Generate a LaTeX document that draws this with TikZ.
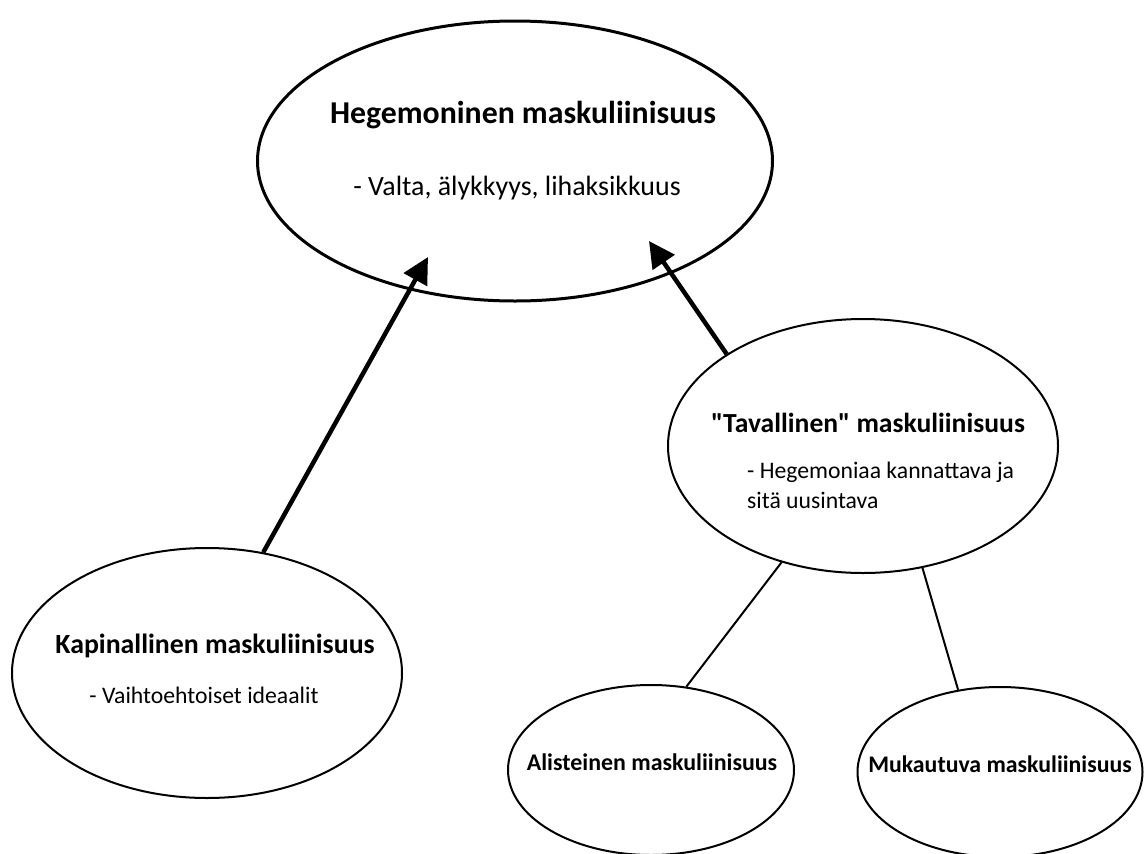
\documentclass[tikz,border=0pt]{standalone}
\usepackage{fontspec}
\setmainfont{Carlito}[Ligatures=TeXOff]
\usetikzlibrary{arrows.meta, shapes.geometric}
\newcommand{\ttlfont}[1]{\fontsize{#1}{#1}\selectfont\bfseries}
\newcommand{\subfont}[1]{\fontsize{#1}{30}\selectfont}

\begin{document}
\begin{tikzpicture}[x=1pt,y=-1pt,
	ellstyle/.style={draw,ellipse,inner sep=0pt,line width=2pt},
	txtstyle/.style={inner sep=0pt,anchor=base},
	upstyle/.style={line width=4.5pt,-{Triangle[length=26pt,width=26pt]}}
]
	\useasboundingbox (0,0) rectangle (1146,854);

	\node[ellstyle,line width=3pt,minimum width=515pt,minimum height=280pt] at (515,161) (heg) {};
	\node[txtstyle,font=\ttlfont{31.8}] at (523,123) (hegT) {Hegemoninen maskuliinisuus};
	\node[txtstyle,font=\subfont{27.9}] at (517,195) (hegS) {- Valta, älykkyys, lihaksikkuus};
	\coordinate (hegL) at (428,257);
	\coordinate (hegR) at (649,241);

	\node[ellstyle,minimum width=390pt,minimum height=254pt] at (863,446) (tav) {};
	\node[txtstyle,font=\ttlfont{27.6}] at (868,432) (tavT) {"Tavallinen" maskuliinisuus};
	\node[txtstyle,anchor=base west,align=left,font=\subfont{23.7}] at (747,508) (tavS) {- Hegemoniaa kannattava ja\\sitä uusintava};

	\node[ellstyle,minimum width=390pt,minimum height=250pt] at (207,673) (kap) {};
	\node[txtstyle,font=\ttlfont{27.8}] at (215,653) (kapT) {Kapinallinen maskuliinisuus};
	\node[txtstyle,font=\subfont{23.7}] at (204,703) (kapS) {- Vaihtoehtoiset ideaalit};

	\node[ellstyle,minimum width=286pt,minimum height=170pt] at (651,770) (ali) {};
	\node[txtstyle,font=\ttlfont{23.9}] at (652,770) (aliT) {Alisteinen maskuliinisuus};

	\node[ellstyle,minimum width=285pt,minimum height=170pt] at (1000,772) (muk) {};
	\node[txtstyle,font=\ttlfont{23.8}] at (1000,772) (mukT) {Mukautuva maskuliinisuus};

	% yhteydet
	\draw[upstyle] (kap.65) -- (hegL);
	\draw[upstyle] (tav.146) -- (hegR);
	\draw[line width=2pt] (tav.235) -- (ali.67);
	\draw[line width=2pt] (tav.296) -- (muk.117);
\end{tikzpicture}
\end{document}
